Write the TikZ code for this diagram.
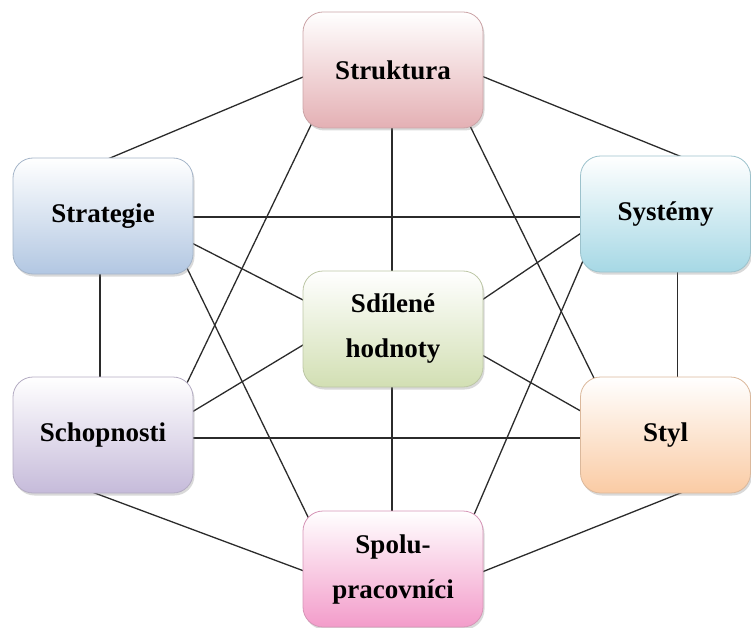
\documentclass[tikz,border=0pt]{standalone}
\usepackage{fontspec}
\setmainfont{Liberation Serif}
\usetikzlibrary{calc,shadows}
\pgfdeclarelayer{background}
\pgfsetlayers{background,main}
\definecolor{cT}{HTML}{E4B0B4}
\definecolor{cG}{HTML}{B2C7E2}
\definecolor{cY}{HTML}{A6D8E5}
\definecolor{cH}{HTML}{D2DFB3}
\definecolor{cC}{HTML}{C6BBDA}
\definecolor{cL}{HTML}{FACBA4}
\definecolor{cP}{HTML}{F39CCA}
\definecolor{edgecol}{HTML}{2B2B2B}
\tikzset{
  box/.style={rounded corners=20pt, minimum height=116pt, inner sep=2pt,
    align=center, font=\fontsize{27}{45}\selectfont\bfseries,
    top color=white, bottom color=#1, draw=#1!75!gray, line width=0.8pt,
    drop shadow={shadow xshift=1.5pt, shadow yshift=-2.5pt, opacity=0.3}},
  link/.style={draw=edgecol, line width=1.3pt}
}
\begin{document}
\begin{tikzpicture}[x=1pt,y=-1pt]
\useasboundingbox (0,0) rectangle (751,628);
\node[box=cT, minimum width=180pt] (T) at (393,70) {Struktura};
\node[box=cG, minimum width=180pt] (G) at (103,216) {Strategie};
\node[box=cY, minimum width=170pt] (Y) at (665.5,214) {Systémy};
\node[box=cH, minimum width=180pt] (H) at (393,329) {Sdílené\\hodnoty};
\node[box=cC, minimum width=180pt] (C) at (103,435) {Schopnosti};
\node[box=cL, minimum width=170pt] (L) at (665.5,435) {Styl};
\node[box=cP, minimum width=180pt] (P) at (393,569) {Spolu-\\pracovníci};
\begin{pgfonlayer}{background}
\draw[link] ($(T.center)+(-78,2)$) -- ($(G.center)+(0,-55)$);
\draw[link] ($(T.center)+(81,3)$) -- ($(Y.center)+(19,-56)$);
\draw[link] ($(T.center)+(-1,40)$) -- ($(H.center)+(-1,-40)$);
\draw[link] ($(T.center)+(-76.5,43.5)$) -- ($(C.center)+(77.5,-38.5)$);
\draw[link] ($(T.center)+(72.4,46.5)$) -- ($(L.center)+(-65.4,-44.5)$);
\draw[link] ($(G.center)+(77,1)$) -- ($(Y.center)+(-75,3)$);
\draw[link] ($(G.center)+(80,22.5)$) -- ($(H.center)+(-81,-24.4)$);
\draw[link] ($(G.center)+(-3,44)$) -- ($(C.center)+(-3,-45)$);
\draw[link] ($(G.center)+(78.4,40.5)$) -- ($(P.center)+(-78.4,-38.5)$);
\draw[link] ($(Y.center)+(-79,15.4)$) -- ($(H.center)+(80.7,-23.4)$);
\draw[link] ($(Y.center)+(12,40)$) -- ($(L.center)+(12,-45)$);
\draw[link] ($(Y.center)+(-77.1,34.2)$) -- ($(P.center)+(74.1,-38.2)$);
\draw[link] ($(H.center)+(-81.4,10.8)$) -- ($(C.center)+(80.4,-17.8)$);
\draw[link] ($(H.center)+(80.3,21)$) -- ($(L.center)+(-74.3,-18)$);
\draw[link] ($(H.center)+(-1,40)$) -- ($(P.center)+(-1,-40)$);
\draw[link] ($(C.center)+(77,3)$) -- ($(L.center)+(-75,3)$);
\draw[link] ($(C.center)+(-12.4,56.5)$) -- ($(P.center)+(-79.6,5.5)$);
\draw[link] ($(L.center)+(19.3,56.3)$) -- ($(P.center)+(79.7,6.7)$);
\end{pgfonlayer}
\end{tikzpicture}
\end{document}
